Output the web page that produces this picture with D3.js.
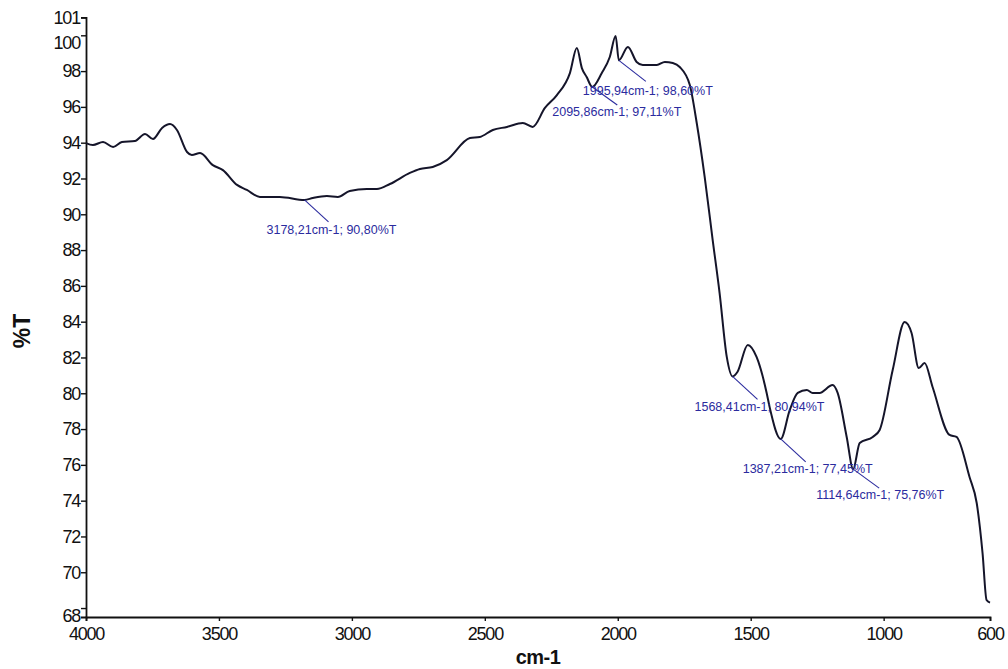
<!DOCTYPE html>
<html>
<head>
<meta charset="utf-8">
<script src="https://cdn.jsdelivr.net/npm/d3@7"></script>
<style>
  html, body { margin: 0; padding: 0; background: #ffffff; }
  svg { display: block; }
  .tick text { font-family: "Liberation Sans", Arial, sans-serif; fill: #111; }
</style>
</head>
<body>
<svg id="chart" width="1008" height="669"></svg>
<script>
// FTIR spectrum: wavenumber (cm-1) against transmittance (%T)
const wavenumbers = [
  4000, 3974, 3936, 3898, 3865, 3816, 3778, 3748, 3714, 3684, 3658, 3620, 3602, 3571,
  3523, 3485, 3432, 3395, 3346, 3271, 3178.21, 3147, 3094, 3053, 3008, 2944, 2906, 2857,
  2782, 2744, 2696, 2643, 2556, 2519, 2470, 2417, 2357, 2320, 2274, 2229, 2180, 2154,
  2135, 2117, 2095.86, 2060, 2030, 2008, 1995.94, 1962, 1929, 1906, 1853, 1823, 1793,
  1767, 1729, 1703, 1673, 1643, 1617, 1590, 1568.41, 1550, 1511, 1478, 1440, 1429,
  1387.21, 1353, 1323, 1289, 1267, 1241, 1192, 1173, 1139, 1114.64, 1090, 1041, 1015,
  966, 921, 895, 868, 846, 816, 752, 726, 677, 650, 628, 613, 600
];
const transmittance = [
  93.98, 93.87, 94.04, 93.76, 94.04, 94.09, 94.49, 94.21, 94.82, 95.04, 94.71, 93.48, 93.31, 93.42,
  92.75, 92.47, 91.64, 91.36, 90.97, 90.97, 90.80, 90.91, 91.02, 90.97, 91.30, 91.41, 91.41, 91.69,
  92.31, 92.53, 92.64, 93.03, 94.26, 94.32, 94.71, 94.88, 95.10, 94.88, 95.94, 96.66, 97.89, 99.29,
  98.17, 97.67, 97.11, 97.89, 98.79, 99.96, 98.60, 99.35, 98.51, 98.34, 98.34, 98.51, 98.45,
  98.23, 97.22, 95.10, 92.08, 88.56, 85.60, 82.03, 80.94, 81.19, 82.70, 82.03, 80.02, 79.24,
  77.45, 79.07, 80.02, 80.18, 80.02, 80.02, 80.46, 80.02, 77.56, 75.76, 77.22, 77.56, 77.95,
  81.30, 83.98, 83.37, 81.41, 81.69, 80.35, 77.67, 77.56, 75.32, 73.87, 71.07, 68.45, 68.30
];

// Picked peaks
const peakWavenumbers = [3178.21, 2095.86, 1995.94, 1568.41, 1387.21, 1114.64];
const peakTransmittance = [90.80, 97.11, 98.60, 80.94, 77.45, 75.76];

// Axis ticks
const xTicks = [4000, 3500, 3000, 2500, 2000, 1500, 1000, 600];
const yTicks = [68, 70, 72, 74, 76, 78, 80, 82, 84, 86, 88, 90, 92, 94, 96, 98, 100, 101];

// Label placement relative to each picked point: [leader dx, leader dy, text dx, text dy]
const peakLabelLayout = [
  [24, 22, -38, 34],
  [25, 18, -40, 29],
  [27, 21, -36, 35],
  [25, 23, -38, 35],
  [25, 23, -38, 34],
  [26, 19, -37, 30]
];

const svg = d3.select("#chart");
const plot = { left: 86, right: 990, top: 17.4, bottom: 617 };

const x = d3.scaleLinear().domain([4000, 600]).range([plot.left, plot.right]);
const y = d3.scaleLinear().domain([67.5, 101]).range([plot.bottom, plot.top]);

const commaNum = v => d3.format(".2f")(v).replace(".", ",");

// Axes
const xAxis = svg.append("g")
  .attr("transform", `translate(0,${plot.bottom})`)
  .call(d3.axisBottom(x).tickValues(xTicks).tickFormat(d3.format("d")).tickSize(4).tickPadding(6));
const yAxis = svg.append("g")
  .attr("transform", `translate(${plot.left},0)`)
  .call(d3.axisLeft(y).tickValues(yTicks).tickFormat(d3.format("d")).tickSize(5).tickPadding(1));

[xAxis, yAxis].forEach(g => {
  g.select(".domain").attr("stroke", "#111").attr("stroke-width", 1.8);
  g.selectAll(".tick line").attr("stroke", "#111").attr("stroke-width", 1.4);
  g.selectAll(".tick text")
    .attr("font-size", 18)
    .attr("letter-spacing", "-1.2px");
});
// keep the two top labels and the bottom one clear of each other and the axis corner
yAxis.selectAll(".tick text").filter(d => d === 100).attr("dy", "0.72em");
yAxis.selectAll(".tick text").filter(d => d === 68).attr("dy", "0.72em");

// Axis titles
svg.append("text")
  .attr("x", 538).attr("y", 664)
  .attr("text-anchor", "middle")
  .attr("font-family", "Liberation Sans, Arial, sans-serif")
  .attr("font-weight", "bold")
  .attr("font-size", 20)
  .attr("letter-spacing", "-0.5px")
  .attr("fill", "#111")
  .text("cm-1");

svg.append("text")
  .attr("transform", "translate(30,331) rotate(-90)")
  .attr("text-anchor", "middle")
  .attr("font-family", "Liberation Sans, Arial, sans-serif")
  .attr("font-weight", "bold")
  .attr("font-size", 23)
  .attr("fill", "#111")
  .text("%T");

// Spectrum line
const points = wavenumbers.map((w, i) => [w, transmittance[i]]);
svg.append("path")
  .datum(points)
  .attr("fill", "none")
  .attr("stroke", "#15152a")
  .attr("stroke-width", 2)
  .attr("stroke-linejoin", "round")
  .attr("d", d3.line().x(d => x(d[0])).y(d => y(d[1])).curve(d3.curveMonotoneX));

// Peak annotations
const labelColor = "#2b2b9e";
const peaks = peakWavenumbers.map((w, i) => ({ w, t: peakTransmittance[i], lay: peakLabelLayout[i] }));
const ann = svg.append("g");
ann.selectAll("line")
  .data(peaks)
  .join("line")
  .attr("x1", d => x(d.w)).attr("y1", d => y(d.t))
  .attr("x2", d => x(d.w) + d.lay[0]).attr("y2", d => y(d.t) + d.lay[1])
  .attr("stroke", labelColor)
  .attr("stroke-width", 1.1);
ann.selectAll("text")
  .data(peaks)
  .join("text")
  .attr("x", d => x(d.w) + d.lay[2])
  .attr("y", d => y(d.t) + d.lay[3])
  .attr("font-family", "Liberation Sans, Arial, sans-serif")
  .attr("font-size", 12.5)
  .attr("fill", labelColor)
  .text(d => `${commaNum(d.w)}cm-1; ${commaNum(d.t)}%T`);
</script>
</body>
</html>
